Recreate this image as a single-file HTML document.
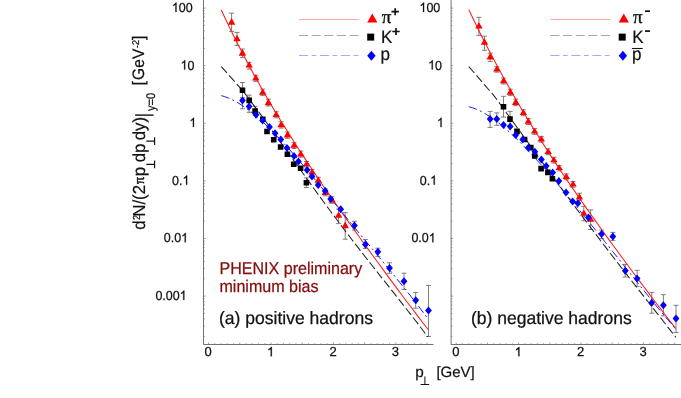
<!DOCTYPE html>
<html><head><meta charset="utf-8"><title>chart</title>
<style>html,body{margin:0;padding:0;background:#fff;width:681px;height:398px;overflow:hidden}</style>
</head><body>
<svg width="681" height="398" viewBox="0 0 681 398" style="display:block;position:absolute;left:0;top:0;will-change:transform" font-family="'Liberation Sans', sans-serif" text-rendering="geometricPrecision">
<rect width="681" height="398" fill="#fff"/>
<path d="M203.5 0V344.5H433.5" fill="none" stroke="#727272" stroke-width="1" stroke-linejoin="miter"/>
<path d="M208.60 344.5v-2.0 M214.84 344.5v-1.3 M221.08 344.5v-1.3 M227.32 344.5v-1.3 M233.56 344.5v-1.3 M239.80 344.5v-2.0 M246.04 344.5v-1.3 M252.28 344.5v-1.3 M258.52 344.5v-1.3 M264.76 344.5v-1.3 M271.00 344.5v-2.0 M277.24 344.5v-1.3 M283.48 344.5v-1.3 M289.72 344.5v-1.3 M295.96 344.5v-1.3 M302.20 344.5v-2.0 M308.44 344.5v-1.3 M314.68 344.5v-1.3 M320.92 344.5v-1.3 M327.16 344.5v-1.3 M333.40 344.5v-2.0 M339.64 344.5v-1.3 M345.88 344.5v-1.3 M352.12 344.5v-1.3 M358.36 344.5v-1.3 M364.60 344.5v-2.0 M370.84 344.5v-1.3 M377.08 344.5v-1.3 M383.32 344.5v-1.3 M389.56 344.5v-1.3 M395.80 344.5v-2.0 M402.04 344.5v-1.3 M408.28 344.5v-1.3 M414.52 344.5v-1.3 M420.76 344.5v-1.3 M427.00 344.5v-2.0 M203.5 8.10h2.0 M203.5 65.70h2.0 M203.5 48.36h1.3 M203.5 38.22h1.3 M203.5 31.02h1.3 M203.5 25.44h1.3 M203.5 20.88h1.3 M203.5 17.02h1.3 M203.5 13.68h1.3 M203.5 10.74h1.3 M203.5 123.30h2.0 M203.5 105.96h1.3 M203.5 95.82h1.3 M203.5 88.62h1.3 M203.5 83.04h1.3 M203.5 78.48h1.3 M203.5 74.62h1.3 M203.5 71.28h1.3 M203.5 68.34h1.3 M203.5 180.90h2.0 M203.5 163.56h1.3 M203.5 153.42h1.3 M203.5 146.22h1.3 M203.5 140.64h1.3 M203.5 136.08h1.3 M203.5 132.22h1.3 M203.5 128.88h1.3 M203.5 125.94h1.3 M203.5 238.50h2.0 M203.5 221.16h1.3 M203.5 211.02h1.3 M203.5 203.82h1.3 M203.5 198.24h1.3 M203.5 193.68h1.3 M203.5 189.82h1.3 M203.5 186.48h1.3 M203.5 183.54h1.3 M203.5 296.10h2.0 M203.5 278.76h1.3 M203.5 268.62h1.3 M203.5 261.42h1.3 M203.5 255.84h1.3 M203.5 251.28h1.3 M203.5 247.42h1.3 M203.5 244.08h1.3 M203.5 241.14h1.3 M203.5 336.36h1.3 M203.5 326.22h1.3 M203.5 319.02h1.3 M203.5 313.44h1.3 M203.5 308.88h1.3 M203.5 305.02h1.3 M203.5 301.68h1.3 M203.5 298.74h1.3" fill="none" stroke="#727272" stroke-width="0.7"/>
<path d="M451.1 0V344.5H681" fill="none" stroke="#727272" stroke-width="1" stroke-linejoin="miter"/>
<path d="M456.20 344.5v-2.0 M462.44 344.5v-1.3 M468.68 344.5v-1.3 M474.92 344.5v-1.3 M481.16 344.5v-1.3 M487.40 344.5v-2.0 M493.64 344.5v-1.3 M499.88 344.5v-1.3 M506.12 344.5v-1.3 M512.36 344.5v-1.3 M518.60 344.5v-2.0 M524.84 344.5v-1.3 M531.08 344.5v-1.3 M537.32 344.5v-1.3 M543.56 344.5v-1.3 M549.80 344.5v-2.0 M556.04 344.5v-1.3 M562.28 344.5v-1.3 M568.52 344.5v-1.3 M574.76 344.5v-1.3 M581.00 344.5v-2.0 M587.24 344.5v-1.3 M593.48 344.5v-1.3 M599.72 344.5v-1.3 M605.96 344.5v-1.3 M612.20 344.5v-2.0 M618.44 344.5v-1.3 M624.68 344.5v-1.3 M630.92 344.5v-1.3 M637.16 344.5v-1.3 M643.40 344.5v-2.0 M649.64 344.5v-1.3 M655.88 344.5v-1.3 M662.12 344.5v-1.3 M668.36 344.5v-1.3 M674.60 344.5v-2.0 M451.1 8.10h2.0 M451.1 65.70h2.0 M451.1 48.36h1.3 M451.1 38.22h1.3 M451.1 31.02h1.3 M451.1 25.44h1.3 M451.1 20.88h1.3 M451.1 17.02h1.3 M451.1 13.68h1.3 M451.1 10.74h1.3 M451.1 123.30h2.0 M451.1 105.96h1.3 M451.1 95.82h1.3 M451.1 88.62h1.3 M451.1 83.04h1.3 M451.1 78.48h1.3 M451.1 74.62h1.3 M451.1 71.28h1.3 M451.1 68.34h1.3 M451.1 180.90h2.0 M451.1 163.56h1.3 M451.1 153.42h1.3 M451.1 146.22h1.3 M451.1 140.64h1.3 M451.1 136.08h1.3 M451.1 132.22h1.3 M451.1 128.88h1.3 M451.1 125.94h1.3 M451.1 238.50h2.0 M451.1 221.16h1.3 M451.1 211.02h1.3 M451.1 203.82h1.3 M451.1 198.24h1.3 M451.1 193.68h1.3 M451.1 189.82h1.3 M451.1 186.48h1.3 M451.1 183.54h1.3 M451.1 296.10h2.0 M451.1 278.76h1.3 M451.1 268.62h1.3 M451.1 261.42h1.3 M451.1 255.84h1.3 M451.1 251.28h1.3 M451.1 247.42h1.3 M451.1 244.08h1.3 M451.1 241.14h1.3 M451.1 336.36h1.3 M451.1 326.22h1.3 M451.1 319.02h1.3 M451.1 313.44h1.3 M451.1 308.88h1.3 M451.1 305.02h1.3 M451.1 301.68h1.3 M451.1 298.74h1.3" fill="none" stroke="#727272" stroke-width="0.7"/>
<g font-size="13" fill="#111" stroke="#111" stroke-width="0.25">
<path transform="translate(171.85,11.90) scale(0.006094,-0.006348)" d="M763 0H583V1147Q518 1085 412.5 1023T223 930V1104Q373 1174.5 485 1275T644 1466H763Z" stroke-width="39"/>
<text transform="translate(178.79,11.90) scale(0.96,1)">0</text>
<text transform="translate(185.73,11.90) scale(0.96,1)">0</text>
<path transform="translate(419.45,11.90) scale(0.006094,-0.006348)" d="M763 0H583V1147Q518 1085 412.5 1023T223 930V1104Q373 1174.5 485 1275T644 1466H763Z" stroke-width="39"/>
<text transform="translate(426.39,11.90) scale(0.96,1)">0</text>
<text transform="translate(433.33,11.90) scale(0.96,1)">0</text>
<path transform="translate(180.55,69.50) scale(0.006094,-0.006348)" d="M763 0H583V1147Q518 1085 412.5 1023T223 930V1104Q373 1174.5 485 1275T644 1466H763Z" stroke-width="39"/>
<text transform="translate(187.49,69.50) scale(0.96,1)">0</text>
<path transform="translate(428.15,69.50) scale(0.006094,-0.006348)" d="M763 0H583V1147Q518 1085 412.5 1023T223 930V1104Q373 1174.5 485 1275T644 1466H763Z" stroke-width="39"/>
<text transform="translate(435.09,69.50) scale(0.96,1)">0</text>
<path transform="translate(189.35,127.10) scale(0.006094,-0.006348)" d="M763 0H583V1147Q518 1085 412.5 1023T223 930V1104Q373 1174.5 485 1275T644 1466H763Z" stroke-width="39"/>
<path transform="translate(436.95,127.10) scale(0.006094,-0.006348)" d="M763 0H583V1147Q518 1085 412.5 1023T223 930V1104Q373 1174.5 485 1275T644 1466H763Z" stroke-width="39"/>
<text transform="translate(172.10,184.70) scale(0.96,1)">0</text>
<text transform="translate(179.04,184.70) scale(0.96,1)">.</text>
<path transform="translate(182.51,184.70) scale(0.006094,-0.006348)" d="M763 0H583V1147Q518 1085 412.5 1023T223 930V1104Q373 1174.5 485 1275T644 1466H763Z" stroke-width="39"/>
<text transform="translate(419.70,184.70) scale(0.96,1)">0</text>
<text transform="translate(426.64,184.70) scale(0.96,1)">.</text>
<path transform="translate(430.11,184.70) scale(0.006094,-0.006348)" d="M763 0H583V1147Q518 1085 412.5 1023T223 930V1104Q373 1174.5 485 1275T644 1466H763Z" stroke-width="39"/>
<text transform="translate(163.80,242.30) scale(0.96,1)">0</text>
<text transform="translate(170.74,242.30) scale(0.96,1)">.</text>
<text transform="translate(174.21,242.30) scale(0.96,1)">0</text>
<path transform="translate(181.15,242.30) scale(0.006094,-0.006348)" d="M763 0H583V1147Q518 1085 412.5 1023T223 930V1104Q373 1174.5 485 1275T644 1466H763Z" stroke-width="39"/>
<text transform="translate(411.40,242.30) scale(0.96,1)">0</text>
<text transform="translate(418.34,242.30) scale(0.96,1)">.</text>
<text transform="translate(421.81,242.30) scale(0.96,1)">0</text>
<path transform="translate(428.75,242.30) scale(0.006094,-0.006348)" d="M763 0H583V1147Q518 1085 412.5 1023T223 930V1104Q373 1174.5 485 1275T644 1466H763Z" stroke-width="39"/>
<text transform="translate(155.40,299.90) scale(0.96,1)">0</text>
<text transform="translate(162.34,299.90) scale(0.96,1)">.</text>
<text transform="translate(165.81,299.90) scale(0.96,1)">0</text>
<text transform="translate(172.75,299.90) scale(0.96,1)">0</text>
<path transform="translate(179.69,299.90) scale(0.006094,-0.006348)" d="M763 0H583V1147Q518 1085 412.5 1023T223 930V1104Q373 1174.5 485 1275T644 1466H763Z" stroke-width="39"/>
<text transform="translate(204.59,356.20) scale(1.0,1)">0</text>
<text transform="translate(452.19,356.20) scale(1.0,1)">0</text>
<path transform="translate(266.99,356.20) scale(0.006348,-0.006348)" d="M763 0H583V1147Q518 1085 412.5 1023T223 930V1104Q373 1174.5 485 1275T644 1466H763Z" stroke-width="39"/>
<path transform="translate(514.59,356.20) scale(0.006348,-0.006348)" d="M763 0H583V1147Q518 1085 412.5 1023T223 930V1104Q373 1174.5 485 1275T644 1466H763Z" stroke-width="39"/>
<text transform="translate(329.39,356.20) scale(1.0,1)">2</text>
<text transform="translate(576.99,356.20) scale(1.0,1)">2</text>
<text transform="translate(391.79,356.20) scale(1.0,1)">3</text>
<text transform="translate(639.39,356.20) scale(1.0,1)">3</text>
</g>
<path d="M231.6 13.2V31.4M229.1 13.2h5M229.1 31.4h5 M237.0 32.4V45.5M234.5 32.4h5M234.5 45.5h5 M242.4 49.0V57.6M239.9 49.0h5M239.9 57.6h5 M249.2 62.4V69.1M246.7 62.4h5M246.7 69.1h5 M255.8 75.2V81.4M253.3 75.2h5M253.3 81.4h5 M262.7 89.1V95.6M260.2 89.1h5M260.2 95.6h5 M268.4 99.2V106.0M265.9 99.2h5M265.9 106.0h5 M276.2 111.7V117.8M273.7 111.7h5M273.7 117.8h5 M281.1 121.8V128.1M278.6 121.8h5M278.6 128.1h5 M287.4 131.9V138.4M284.9 131.9h5M284.9 138.4h5 M294.0 142.6V148.5M291.5 142.6h5M291.5 148.5h5 M300.8 151.1V157.2M298.3 151.1h5M298.3 157.2h5 M306.6 161.5V167.0M304.1 161.5h5M304.1 167.0h5 M312.0 169.4V175.3M309.5 169.4h5M309.5 175.3h5 M318.3 177.3V183.5M315.8 177.3h5M315.8 183.5h5 M325.3 188.9V195.8M322.8 188.9h5M322.8 195.8h5 M332.0 196.8V203.3M329.5 196.8h5M329.5 203.3h5 M338.6 209.0V223.6M336.1 209.0h5M336.1 223.6h5 M345.2 212.6V239.2M342.7 212.6h5M342.7 239.2h5" fill="none" stroke="#727272" stroke-width="0.9"/>
<path d="M242.5 82.5V97.7M240.0 82.5h5M240.0 97.7h5 M249.2 95.1V105.5M246.7 95.1h5M246.7 105.5h5 M255.1 106.4V115.0M252.6 106.4h5M252.6 115.0h5 M306.4 177.9V187.5M303.9 177.9h5M303.9 187.5h5" fill="none" stroke="#727272" stroke-width="0.9"/>
<path d="M242.5 92.0V108.8M240.0 92.0h5M240.0 108.8h5 M249.1 101.0V112.3M246.6 101.0h5M246.6 112.3h5 M354.4 221.3V230.1M351.9 221.3h5M351.9 230.1h5 M365.4 239.6V248.5M362.9 239.6h5M362.9 248.5h5 M377.9 248.2V256.4M375.4 248.2h5M375.4 256.4h5 M389.5 262.8V273.3M387.0 262.8h5M387.0 273.3h5 M404.0 273.2V289.5M401.5 273.2h5M401.5 289.5h5 M415.7 292.4V308.2M413.2 292.4h5M413.2 308.2h5 M428.5 285.4V336.5M426.0 285.4h5M426.0 336.5h5" fill="none" stroke="#727272" stroke-width="0.9"/>
<path d="M478.9 17.3V35.4M476.4 17.3h5M476.4 35.4h5 M484.5 36.2V50.3M482.0 36.2h5M482.0 50.3h5 M490.2 53.2V61.6M487.7 53.2h5M487.7 61.6h5 M496.8 66.7V72.2M494.3 66.7h5M494.3 72.2h5 M503.6 78.0V84.0M501.1 78.0h5M501.1 84.0h5 M510.3 89.2V95.6M507.8 89.2h5M507.8 95.6h5 M515.7 99.1V105.7M513.2 99.1h5M513.2 105.7h5 M523.4 109.8V115.7M520.9 109.8h5M520.9 115.7h5 M528.3 118.5V124.5M525.8 118.5h5M525.8 124.5h5 M534.6 128.6V134.4M532.1 128.6h5M532.1 134.4h5 M541.3 136.4V142.2M538.8 136.4h5M538.8 142.2h5 M548.2 148.8V154.7M545.7 148.8h5M545.7 154.7h5 M553.9 157.3V163.1M551.4 157.3h5M551.4 163.1h5 M559.2 165.4V170.9M556.7 165.4h5M556.7 170.9h5 M566.3 173.9V179.7M563.8 173.9h5M563.8 179.7h5 M573.0 181.5V187.3M570.5 181.5h5M570.5 187.3h5 M579.4 193.2V200.5M576.9 193.2h5M576.9 200.5h5 M583.8 206.4V220.8M581.3 206.4h5M581.3 220.8h5 M590.6 209.9V229.5M588.1 209.9h5M588.1 229.5h5" fill="none" stroke="#727272" stroke-width="0.9"/>
<path d="M503.5 96.3V117.1M501.0 96.3h5M501.0 117.1h5 M510.0 111.4V126.0M507.5 111.4h5M507.5 126.0h5" fill="none" stroke="#727272" stroke-width="0.9"/>
<path d="M490.1 111.4V127.4M487.6 111.4h5M487.6 127.4h5 M496.8 112.9V125.3M494.3 112.9h5M494.3 125.3h5 M601.6 230.1V238.3M599.1 230.1h5M599.1 238.3h5 M612.9 232.4V240.4M610.4 232.4h5M610.4 240.4h5 M625.2 264.4V277.0M622.7 264.4h5M622.7 277.0h5 M637.1 270.4V286.4M634.6 270.4h5M634.6 286.4h5 M651.8 292.3V313.2M649.3 292.3h5M649.3 313.2h5 M663.4 294.7V315.8M660.9 294.7h5M660.9 315.8h5 M676.0 305.3V332.5M673.5 305.3h5M673.5 332.5h5" fill="none" stroke="#727272" stroke-width="0.9"/>
<path d="M221.3 10.0 L224.8 17.5 L228.3 24.9 L231.8 32.1 L235.3 39.2 L238.8 46.1 L242.4 53.0 L245.9 59.6 L249.4 66.2 L252.9 72.7 L256.4 79.0 L259.9 85.3 L263.4 91.5 L266.9 97.5 L270.4 103.5 L273.9 109.4 L277.4 115.2 L280.9 121.0 L284.5 126.6 L288.0 132.2 L291.5 137.8 L295.0 143.3 L298.5 148.7 L302.0 154.1 L305.5 159.4 L309.0 164.7 L312.5 170.0 L316.0 175.2 L319.5 180.3 L323.0 185.5 L326.6 190.6 L330.1 195.6 L333.6 200.7 L337.1 205.7 L340.6 210.7 L344.1 215.6 L347.6 220.6 L351.1 225.5 L354.6 230.4 L358.1 235.3 L361.6 240.2 L365.1 245.0 L368.7 249.9 L372.2 254.7 L375.7 259.5 L379.2 264.3 L382.7 269.1 L386.2 273.9 L389.7 278.6 L393.2 283.4 L396.7 288.1 L400.2 292.8 L403.7 297.5 L407.2 302.2 L410.8 306.8 L414.3 311.4 L417.8 316.1 L421.3 320.7 L424.8 325.2 L428.3 329.8" fill="none" stroke="#ff1a1a" stroke-width="1.05"/>
<path d="M221.3 95.6 L224.8 96.7 L228.3 98.0 L231.8 99.5 L235.3 101.3 L238.8 103.3 L242.4 105.6 L245.9 108.0 L249.4 110.6 L252.9 113.3 L256.4 116.2 L259.9 119.3 L263.4 122.5 L266.9 125.8 L270.4 129.3 L273.9 132.8 L277.4 136.5 L280.9 140.2 L284.5 144.0 L288.0 147.9 L291.5 151.9 L295.0 155.9 L298.5 159.9 L302.0 164.0 L305.5 168.2 L309.0 172.3 L312.5 176.5 L316.0 180.7 L319.5 185.0 L323.0 189.2 L326.6 193.5 L330.1 197.8 L333.6 202.0 L337.1 206.3 L340.6 210.6 L344.1 214.8 L347.6 219.1 L351.1 223.3 L354.6 227.6 L358.1 231.8 L361.6 236.1 L365.1 240.3 L368.7 244.6 L372.2 248.8 L375.7 253.0 L379.2 257.3 L382.7 261.5 L386.2 265.8 L389.7 270.1 L393.2 274.3 L396.7 278.7 L400.2 283.0 L403.7 287.4 L407.2 291.8 L410.8 296.2 L414.3 300.7 L417.8 305.2 L421.3 309.9 L424.8 314.5 L428.3 319.3" fill="none" stroke="#1a1aff" stroke-width="1.0" stroke-dasharray="8.5 3.3 2 3.3"/>
<path d="M221.3 66.6 L242.0 89.9 L245.1 93.9 L248.3 98.0 L251.4 102.2 L254.6 106.4 L257.7 110.6 L260.9 114.9 L264.0 119.2 L267.2 123.5 L270.3 127.9 L273.5 132.2 L276.6 136.6 L279.8 141.0 L282.9 145.4 L286.1 149.8 L289.2 154.2 L292.4 158.6 L295.5 163.0 L298.7 167.4 L301.8 171.8 L305.0 176.2 L308.1 180.6 L311.3 184.9 L314.4 189.3 L317.6 193.6 L320.7 197.9 L323.9 202.2 L327.0 206.5 L330.2 210.8 L333.3 215.0 L336.5 219.2 L339.6 223.4 L342.8 227.6 L345.9 231.7 L349.1 235.9 L352.2 240.0 L355.4 244.1 L358.5 248.1 L361.7 252.2 L364.8 256.2 L368.0 260.3 L371.1 264.3 L374.3 268.3 L377.4 272.3 L380.6 276.3 L383.7 280.2 L386.9 284.2 L390.0 288.2 L393.2 292.2 L396.3 296.1 L399.5 300.1 L402.6 304.1 L405.8 308.1 L408.9 312.2 L412.1 316.2 L415.2 320.3 L418.4 324.4 L421.5 328.5 L424.7 332.7 L427.8 336.9" fill="none" stroke="#222222" stroke-width="1.05" stroke-dasharray="8.5 3.2"/>
<path d="M468.8 9.6 L472.3 17.0 L475.8 24.3 L479.3 31.4 L482.8 38.4 L486.3 45.3 L489.9 52.1 L493.4 58.8 L496.9 65.3 L500.4 71.8 L503.9 78.2 L507.4 84.4 L510.9 90.6 L514.4 96.7 L517.9 102.7 L521.4 108.7 L524.9 114.6 L528.4 120.3 L532.0 126.1 L535.5 131.7 L539.0 137.3 L542.5 142.9 L546.0 148.3 L549.5 153.8 L553.0 159.1 L556.5 164.4 L560.0 169.7 L563.5 175.0 L567.0 180.1 L570.5 185.3 L574.1 190.4 L577.6 195.5 L581.1 200.5 L584.6 205.6 L588.1 210.5 L591.6 215.5 L595.1 220.4 L598.6 225.3 L602.1 230.2 L605.6 235.1 L609.1 239.9 L612.6 244.7 L616.2 249.5 L619.7 254.3 L623.2 259.0 L626.7 263.8 L630.2 268.5 L633.7 273.2 L637.2 277.9 L640.7 282.6 L644.2 287.3 L647.7 291.9 L651.2 296.6 L654.7 301.2 L658.3 305.8 L661.8 310.4 L665.3 315.0 L668.8 319.6 L672.3 324.1 L675.8 328.7" fill="none" stroke="#ff1a1a" stroke-width="1.05"/>
<path d="M468.8 106.7 L472.3 107.7 L475.8 109.0 L479.3 110.5 L482.8 112.3 L486.3 114.4 L489.9 116.6 L493.4 119.0 L496.9 121.6 L500.4 124.4 L503.9 127.3 L507.4 130.3 L510.9 133.5 L514.4 136.8 L517.9 140.2 L521.4 143.7 L524.9 147.3 L528.4 151.0 L532.0 154.8 L535.5 158.6 L539.0 162.5 L542.5 166.4 L546.0 170.4 L549.5 174.4 L553.0 178.5 L556.5 182.6 L560.0 186.8 L563.5 190.9 L567.0 195.1 L570.5 199.4 L574.1 203.6 L577.6 207.9 L581.1 212.2 L584.6 216.5 L588.1 220.8 L591.6 225.2 L595.1 229.5 L598.6 233.9 L602.1 238.3 L605.6 242.6 L609.1 247.0 L612.6 251.4 L616.2 255.8 L619.7 260.2 L623.2 264.6 L626.7 269.0 L630.2 273.4 L633.7 277.8 L637.2 282.2 L640.7 286.6 L644.2 291.0 L647.7 295.3 L651.2 299.7 L654.7 304.0 L658.3 308.3 L661.8 312.5 L665.3 316.8 L668.8 320.9 L672.3 325.1 L675.8 329.1" fill="none" stroke="#1a1aff" stroke-width="1.0" stroke-dasharray="8.5 3.3 2 3.3"/>
<path d="M468.8 66.6 L493.9 95.6 L497.0 99.8 L500.1 104.0 L503.2 108.3 L506.2 112.5 L509.3 116.8 L512.4 121.0 L515.5 125.3 L518.6 129.5 L521.7 133.8 L524.8 138.1 L527.9 142.3 L530.9 146.6 L534.0 150.8 L537.1 155.1 L540.2 159.3 L543.3 163.6 L546.4 167.8 L549.5 172.0 L552.5 176.3 L555.6 180.5 L558.7 184.7 L561.8 188.9 L564.9 193.1 L568.0 197.2 L571.1 201.4 L574.1 205.5 L577.2 209.7 L580.3 213.8 L583.4 217.9 L586.5 222.0 L589.6 226.1 L592.7 230.2 L595.8 234.3 L598.8 238.3 L601.9 242.4 L605.0 246.4 L608.1 250.4 L611.2 254.5 L614.3 258.5 L617.4 262.5 L620.4 266.4 L623.5 270.4 L626.6 274.4 L629.7 278.4 L632.8 282.3 L635.9 286.3 L639.0 290.2 L642.0 294.1 L645.1 298.1 L648.2 302.0 L651.3 305.9 L654.4 309.9 L657.5 313.8 L660.6 317.7 L663.7 321.7 L666.7 325.6 L669.8 329.6 L672.9 333.5 L676.0 337.5" fill="none" stroke="#222222" stroke-width="1.05" stroke-dasharray="8.5 3.2"/>
<path d="M231.6 18.0L235.3 24.7H227.9ZM237.0 34.8L240.7 41.2H233.3ZM242.4 48.8L246.1 55.7H238.7ZM249.2 61.4L252.9 67.4H245.5ZM255.8 74.3L259.5 80.6H252.1ZM262.7 88.2L266.4 94.8H259.0ZM268.4 98.3L272.1 105.2H264.7ZM276.2 110.8L279.9 117.0H272.5ZM281.1 120.9L284.8 127.3H277.4ZM287.4 131.0L291.1 137.6H283.7ZM294.0 141.7L297.7 147.7H290.3ZM300.8 150.2L304.5 156.4H297.1ZM306.6 160.6L310.3 166.2H302.9ZM312.0 168.5L315.7 174.5H308.3ZM318.3 176.4L322.0 182.7H314.6ZM325.3 188.0L329.0 195.0H321.6ZM332.0 195.9L335.7 202.5H328.3ZM338.6 211.6L342.3 217.8H334.9ZM345.2 221.4L348.9 228.2H341.5Z" fill="#ff0000"/>
<path d="M239.7 87.5h5.6v5.6h-5.6ZM246.4 97.6h5.6v5.6h-5.6ZM252.3 108.2h5.6v5.6h-5.6ZM260.0 116.4h5.6v5.6h-5.6ZM264.2 128.7h5.6v5.6h-5.6ZM270.9 137.0h5.6v5.6h-5.6ZM277.8 144.2h5.6v5.6h-5.6ZM284.6 151.5h5.6v5.6h-5.6ZM290.9 161.5h5.6v5.6h-5.6ZM297.8 165.5h5.6v5.6h-5.6ZM303.6 179.9h5.6v5.6h-5.6Z" fill="#000"/>
<path d="M242.5 96.4L245.8 100.4L242.5 104.4L239.2 100.4ZM249.1 102.4L252.4 106.4L249.1 110.4L245.8 106.4ZM256.0 110.8L259.4 114.8L256.0 118.8L252.7 114.8ZM262.6 116.5L266.0 120.5L262.6 124.5L259.2 120.5ZM269.5 123.0L272.9 127.0L269.5 131.0L266.1 127.0ZM275.1 129.2L278.5 133.2L275.1 137.2L271.8 133.2ZM280.8 135.5L284.2 139.5L280.8 143.5L277.4 139.5ZM287.0 143.9L290.4 147.9L287.0 151.9L283.6 147.9ZM294.0 151.9L297.4 155.9L294.0 159.9L290.6 155.9ZM298.4 157.5L301.8 161.5L298.4 165.5L295.0 161.5ZM307.1 165.9L310.5 169.9L307.1 173.9L303.8 169.9ZM312.0 172.6L315.4 176.6L312.0 180.6L308.6 176.6ZM318.2 180.9L321.6 184.9L318.2 188.9L314.8 184.9ZM325.2 187.0L328.6 191.0L325.2 195.0L321.8 191.0ZM330.7 195.1L334.1 199.1L330.7 203.1L327.3 199.1ZM340.7 205.3L344.1 209.3L340.7 213.3L337.3 209.3ZM354.4 221.4L357.8 225.4L354.4 229.4L351.0 225.4ZM365.4 240.5L368.8 244.5L365.4 248.5L362.0 244.5ZM377.9 247.8L381.2 251.8L377.9 255.8L374.5 251.8ZM389.5 264.0L392.9 268.0L389.5 272.0L386.1 268.0ZM404.0 277.2L407.4 281.2L404.0 285.2L400.6 281.2ZM415.7 296.2L419.1 300.2L415.7 304.2L412.3 300.2ZM428.5 306.5L431.9 310.5L428.5 314.5L425.1 310.5Z" fill="#0000ff"/>
<path d="M478.9 22.0L482.6 28.6H475.2ZM484.5 38.3L488.2 44.7H480.8ZM490.2 53.0L493.9 59.5H486.5ZM496.8 65.8L500.5 71.4H493.1ZM503.6 77.1L507.3 83.2H499.9ZM510.3 88.3L514.0 94.8H506.6ZM515.7 98.2L519.4 104.9H512.0ZM523.4 108.9L527.1 114.9H519.7ZM528.3 117.6L532.0 123.7H524.6ZM534.6 127.7L538.3 133.6H530.9ZM541.3 135.5L545.0 141.4H537.6ZM548.2 147.9L551.9 153.9H544.5ZM553.9 156.4L557.6 162.3H550.2ZM559.2 164.5L562.9 170.1H555.5ZM566.3 173.0L570.0 178.9H562.6ZM573.0 180.6L576.7 186.5H569.3ZM579.4 193.2L583.1 199.5H575.7ZM583.8 209.6L587.5 215.8H580.1ZM590.6 215.4L594.3 221.8H586.9Z" fill="#ff0000"/>
<path d="M500.7 104.0h5.6v5.6h-5.6ZM507.2 116.3h5.6v5.6h-5.6ZM514.2 128.6h5.6v5.6h-5.6ZM521.8 136.7h5.6v5.6h-5.6ZM528.0 144.8h5.6v5.6h-5.6ZM531.9 153.2h5.6v5.6h-5.6ZM538.3 165.8h5.6v5.6h-5.6ZM545.1 169.6h5.6v5.6h-5.6ZM549.6 175.9h5.6v5.6h-5.6Z" fill="#000"/>
<path d="M490.1 115.1L493.5 119.1L490.1 123.1L486.8 119.1ZM496.8 115.1L500.2 119.1L496.8 123.1L493.4 119.1ZM503.5 121.0L506.9 125.0L503.5 129.0L500.1 125.0ZM510.2 122.6L513.5 126.6L510.2 130.6L506.8 126.6ZM515.8 131.1L519.1 135.1L515.8 139.1L512.4 135.1ZM522.7 135.5L526.1 139.5L522.7 143.5L519.4 139.5ZM528.3 143.7L531.6 147.7L528.3 151.7L524.9 147.7ZM534.9 147.7L538.2 151.7L534.9 155.7L531.5 151.7ZM541.4 155.4L544.8 159.4L541.4 163.4L538.0 159.4ZM546.2 162.1L549.6 166.1L546.2 170.1L542.9 166.1ZM552.7 168.4L556.1 172.4L552.7 176.4L549.4 172.4ZM558.9 177.0L562.2 181.0L558.9 185.0L555.5 181.0ZM566.0 188.6L569.4 192.6L566.0 196.6L562.6 192.6ZM572.6 197.4L576.0 201.4L572.6 205.4L569.2 201.4ZM577.9 199.2L581.2 203.2L577.9 207.2L574.5 203.2ZM588.4 213.6L591.8 217.6L588.4 221.6L585.0 217.6ZM601.6 230.1L605.0 234.1L601.6 238.1L598.2 234.1ZM612.9 232.4L616.2 236.4L612.9 240.4L609.5 236.4ZM625.2 266.7L628.6 270.7L625.2 274.7L621.9 270.7ZM637.1 274.6L640.5 278.6L637.1 282.6L633.8 278.6ZM651.8 298.8L655.1 302.8L651.8 306.8L648.4 302.8ZM663.4 301.3L666.8 305.3L663.4 309.3L660.0 305.3ZM676.0 314.6L679.4 318.6L676.0 322.6L672.6 318.6Z" fill="#0000ff"/>
<path d="M299 19.5H358.8" stroke="#ffa6a6" stroke-width="1" fill="none"/>
<path d="M299 35.5H358.8" stroke="#a8a8a8" stroke-width="1" fill="none" stroke-dasharray="9.05 3.6"/>
<path d="M299 55.5H358.8" stroke="#a8a8f6" stroke-width="1" fill="none" stroke-dasharray="9.05 3.6 4.7 3.6"/>
<path d="M372.3 13.6L377.40000000000003 22.5H367.2Z" fill="#ff0000"/>
<rect x="367.2" y="33.6" width="7" height="7" fill="#000"/>
<path d="M371.40000000000003 50.7L375.6 55.7L371.40000000000003 60.7L367.2 55.7Z" fill="#0000ff"/>
<text x="381.7" y="22.7" font-size="19" font-family="'Liberation Serif', serif" fill="#111" stroke="#111" stroke-width="0.35">π</text>
<text transform="translate(380.9,42.6) scale(0.95,1)" font-size="17.9" fill="#111" stroke="#111" stroke-width="0.2">K</text>
<text transform="translate(380.59999999999997,59.9) scale(0.95,1)" font-size="18" fill="#111" stroke="#111" stroke-width="0.2">p</text>
<path d="M391.5 11.7h7.4M395.2 8.2v7" stroke="#111" stroke-width="1.7" fill="none"/>
<path d="M392.3 31.5h7.4M396.0 28.0v7" stroke="#111" stroke-width="1.7" fill="none"/>
<path d="M550.4 19.5H610.5" stroke="#ffa6a6" stroke-width="1" fill="none"/>
<path d="M550.4 35.5H610.5" stroke="#a8a8a8" stroke-width="1" fill="none" stroke-dasharray="9.05 3.6"/>
<path d="M550.4 55.5H610.5" stroke="#a8a8f6" stroke-width="1" fill="none" stroke-dasharray="9.05 3.6 4.7 3.6"/>
<path d="M623.8 13.6L628.9 22.5H618.6999999999999Z" fill="#ff0000"/>
<rect x="618.6999999999999" y="33.6" width="7" height="7" fill="#000"/>
<path d="M622.9 50.7L627.0999999999999 55.7L622.9 60.7L618.6999999999999 55.7Z" fill="#0000ff"/>
<text x="633.0" y="22.7" font-size="19" font-family="'Liberation Serif', serif" fill="#111" stroke="#111" stroke-width="0.35">π</text>
<text transform="translate(632.2,42.6) scale(0.95,1)" font-size="17.9" fill="#111" stroke="#111" stroke-width="0.2">K</text>
<text transform="translate(631.9000000000001,59.9) scale(0.95,1)" font-size="18" fill="#111" stroke="#111" stroke-width="0.2">p</text>
<path d="M645.0 11.2h5" stroke="#111" stroke-width="1.7" fill="none"/>
<path d="M645.0 31.1h5" stroke="#111" stroke-width="1.7" fill="none"/>
<path d="M631.9000000000001 48.5h10.8" stroke="#111" stroke-width="1.1" fill="none"/>
<g font-size="17" fill="#860c0c" stroke="#860c0c" stroke-width="0.25"><text transform="translate(219.5,273.8) scale(0.944,1)">PHENIX preliminary</text><text transform="translate(219.5,292.0) scale(0.944,1)">minimum bias</text></g>
<text transform="translate(219.0,323.9) scale(0.98,1)" font-size="17.9" fill="#111" stroke="#111" stroke-width="0.25">(a) positive hadrons</text>
<text transform="translate(470.9,323.9) scale(0.98,1)" font-size="17.9" fill="#111" stroke="#111" stroke-width="0.25">(b) negative hadrons</text>
<g fill="#111" stroke="#111" stroke-width="0.2"><text x="415.3" y="377" font-size="15.3">p</text><text x="436.4" y="377" font-size="15">[GeV]</text><path d="M420.6 384.5h8.6M424.9 376.4v8.1" stroke="#111" stroke-width="1" fill="none"/></g>
<g transform="translate(144.6,229.8) rotate(-90)" fill="#111" stroke="#111" stroke-width="0.22"><text transform="translate(0,0) scale(0.972,1)" font-size="17.4">d</text><text transform="translate(9.7,-4.8) scale(0.88,1)" font-size="10.2">2</text><text transform="translate(13.0,0) scale(0.972,1)" font-size="17.4">N/(2</text><text transform="translate(45.7,-1.0) scale(0.93,1)" font-size="15" font-family="'Liberation Serif', serif" stroke-width="0.45">π</text><text transform="translate(53.6,0) scale(0.972,1)" font-size="17.4">p</text><text transform="translate(67.5,0) scale(0.972,1)" font-size="17.4">dp</text><text transform="translate(89.5,0) scale(0.972,1)" font-size="17.4">dy)</text><text transform="translate(118.8,10.4) scale(0.885,1)" font-size="12.5">y=0</text><text transform="translate(144.2,-1.1) scale(0.975,1)" font-size="16.6">[</text><text transform="translate(149.9,-1.1) scale(0.94,1)" font-size="16.6">GeV</text><text transform="translate(184.5,-5.2) scale(1,1)" font-size="9.8">2</text><text transform="translate(189.8,-1.1) scale(0.975,1)" font-size="16.6">]</text><path d="M182.0 -7.1h2.3" stroke="#111" stroke-width="1.1" fill="none"/><path d="M114.7 -9.5V9" stroke="#111" stroke-width="1.4" fill="none"/><path d="M61.6 10h7.6M65.4 10V1.7" stroke="#111" stroke-width="1.15" fill="none"/><path d="M84.9 10h7.6M88.7 10V1.7" stroke="#111" stroke-width="1.15" fill="none"/></g>
</svg>
</body></html>
